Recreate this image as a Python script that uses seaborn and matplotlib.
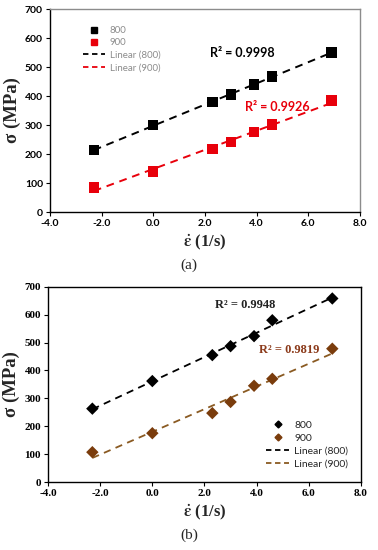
import numpy as np
import pandas as pd
import seaborn as sns
import matplotlib.pyplot as plt
from matplotlib.lines import Line2D

# strain rate (ln of 1/s)
rate = [-2.3, 0.0, 2.3, 3.0, 3.9, 4.6, 6.9]
# flow stress (MPa), panel (a)
a_800 = [213, 300, 380, 405, 440, 467, 550]
a_900 = [85, 140, 217, 242, 275, 302, 385]
# flow stress (MPa), panel (b)
b_800 = [263, 362, 455, 487, 523, 580, 658]
b_900 = [107, 175, 247, 287, 345, 370, 478]

r2_a = ['R² = 0.9998', 'R² = 0.9926']
r2_b = ['R² = 0.9948', 'R² = 0.9819']
xticks = np.arange(-4, 8.1, 2)
yticks = np.arange(0, 701, 100)

sns.set_style('white')
plt.rcParams['mathtext.fontset'] = 'stix'
serif = 'Liberation Serif'
sans = 'Lato'

fig = plt.figure(figsize=(3.78, 5.5), dpi=100)
ax1 = fig.add_axes([0.132, 0.6145, 0.820, 0.369])
ax2 = fig.add_axes([0.127, 0.1236, 0.828, 0.355])


def make_df(s800, s900):
    return pd.DataFrame({'rate': rate * 2,
                         'stress': s800 + s900,
                         'T': ['800'] * 7 + ['900'] * 7})


def style_axes(ax, tickfont, tsize, box_color):
    ax.set_xlim(-4, 8)
    ax.set_ylim(0, 700)
    ax.set_xticks(xticks)
    ax.set_yticks(yticks)
    ax.set_xticklabels([f'{v:.1f}' for v in xticks], family=tickfont, weight='bold', fontsize=tsize)
    ax.set_yticklabels([f'{v:.0f}' for v in yticks], family=tickfont, weight='bold', fontsize=tsize)
    ax.tick_params(axis='both', direction='out', length=3, width=0.8, pad=2,
                   bottom=True, left=True, colors='black')
    for side in ['left', 'bottom']:
        ax.spines[side].set_color('black')
        ax.spines[side].set_linewidth(1.0)
    for side in ['top', 'right']:
        ax.spines[side].set_color(box_color)
        ax.spines[side].set_linewidth(1.0)
    ax.set_xlabel(r'$\mathbf{\dot{\varepsilon}}$ (1/s)', family=serif, weight='bold',
                  fontsize=12, labelpad=3)
    ax.set_ylabel('σ (MPa)', family=[serif, 'DejaVu Serif'], weight='bold', fontsize=13.5, labelpad=3)


# panel (a)
df_a = make_df(a_800, a_900)
pal_a = {'800': 'black', '900': '#e8000b'}
sns.scatterplot(data=df_a, x='rate', y='stress', hue='T', palette=pal_a, marker='s',
                s=55, edgecolor='none', legend=False, ax=ax1, zorder=3)
for s, c in [(a_800, 'black'), (a_900, '#e8000b')]:
    sns.regplot(x=rate, y=s, scatter=False, ci=None, ax=ax1, color=c,
                line_kws={'ls': (0, (4, 3)), 'lw': 1.4})
style_axes(ax1, sans, 7.5, '#8c8c8c')
ax1.text(3.45, 548, r2_a[0], family=sans, weight='bold', fontsize=9, color='black',
         ha='center', va='center')
ax1.text(4.8, 362, r2_a[1], family=sans, weight='bold', fontsize=9, color='#e8000b',
         ha='center', va='center')
h_a = [Line2D([], [], ls='none', marker='s', color='black', ms=4),
       Line2D([], [], ls='none', marker='s', color='#e8000b', ms=4),
       Line2D([], [], ls=(0, (3, 2)), color='black', lw=1.3),
       Line2D([], [], ls=(0, (3, 2)), color='#e8000b', lw=1.3)]
leg = ax1.legend(h_a, ['800', '900', 'Linear (800)', 'Linear (900)'], loc='upper left',
                 bbox_to_anchor=(0.08, 0.96), frameon=False, handlelength=2.2,
                 handletextpad=0.5, labelspacing=0.35, prop={'family': sans, 'size': 7})
for t in leg.get_texts():
    t.set_color('#8c8c8c')
fig.text(0.5, 1 - 265 / 550, '(a)', family=serif, fontsize=11, ha='center', va='center')

# panel (b)
df_b = make_df(b_800, b_900)
brown = '#7a3c0c'
pal_b = {'800': 'black', '900': brown}
sns.scatterplot(data=df_b, x='rate', y='stress', hue='T', palette=pal_b, marker='D',
                s=40, edgecolor='none', legend=False, ax=ax2, zorder=3)
for s, c in [(b_800, 'black'), (b_900, '#8a5a22')]:
    sns.regplot(x=rate, y=s, scatter=False, ci=None, ax=ax2, color=c,
                line_kws={'ls': (0, (4, 3)), 'lw': 1.3})
style_axes(ax2, serif, 8, 'black')
ax2.text(3.55, 635, r2_b[0], family=serif, weight='bold', fontsize=9, color='#222222',
         ha='center', va='center')
ax2.text(5.25, 474, r2_b[1], family=serif, weight='bold', fontsize=9, color='#8b3a1a',
         ha='center', va='center')
h_b = [Line2D([], [], ls='none', marker='D', color='black', ms=3.5),
       Line2D([], [], ls='none', marker='D', color=brown, ms=3.5),
       Line2D([], [], ls=(0, (3, 2)), color='black', lw=1.3),
       Line2D([], [], ls=(0, (3, 2)), color='#8a5a22', lw=1.3)]
ax2.legend(h_b, ['800', '900', 'Linear (800)', 'Linear (900)'], loc='lower right',
           bbox_to_anchor=(0.99, 0.02), frameon=False, handlelength=2.2,
           handletextpad=0.5, labelspacing=0.35, prop={'family': sans, 'size': 7.5})
fig.text(0.5, 1 - 535 / 550, '(b)', family=serif, fontsize=11, ha='center', va='center')

fig.savefig('out.png', dpi=100)
